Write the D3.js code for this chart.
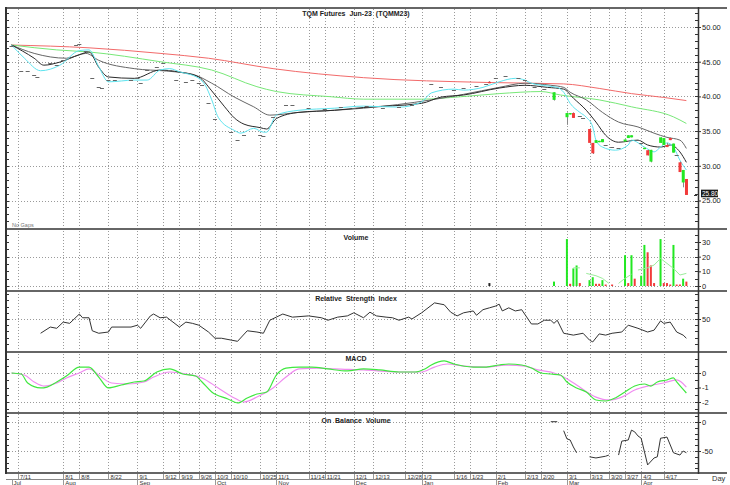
<!DOCTYPE html>
<html>
<head>
<meta charset="utf-8">
<script src="https://cdn.jsdelivr.net/npm/d3@7"></script>
<style>
  body { margin: 0; background: #fff; }
  text { font-family: "Liberation Sans", Arial, sans-serif; }
</style>
</head>
<body>
<script>
// ---- data (x = trading day index, 0 = 7/11/2022) ----
const tickDays = [0, 14, 19, 28, 37, 45, 50, 56, 61, 66, 75, 80, 90, 95, 104, 110, 120, 125, 135, 140, 148, 157, 162, 170, 177, 183, 188, 193, 200]
const tickLabels = ["7/11", "8/1", "8/8", "8/22", "9/1", "9/12", "9/19", "9/26", "10/3", "10/10", "10/25", "11/1", "11/14", "11/21", "12/1", "12/13", "12/28", "1/3", "1/16", "1/23", "2/1", "2/13", "2/20", "3/1", "3/13", "3/20", "3/27", "4/3", "4/17"]
const monthDays = [-2, 14, 37, 61, 80, 104, 125, 148, 170, 193]
const monthLabels = ["Jul", "Aug", "Sep", "Oct", "Nov", "Dec", "Jan", "Feb", "Mar", "Apr"]

const priceTicks = [25, 30, 35, 40, 45, 50]
const volTicks = [0, 10, 20, 30]
const rsiTicks = [50]
const macdTicks = [-2, -1, 0]
const obvTicks = [-50, 0]
const lastPrice = 25.80

// closes on quiet days (drawn as small dashes)
const dashes = [[-2,47.2],[1,43.7],[3,43.7],[5,43.1],[6,42.8],[10,44.8],[12,44.5],[14,45.3],[18,47.4],[19,47.5],[21,46.6],[23,42.6],[25,41.3],[26,41.15],[28,42.35],[30,42.35],[35,42.35],[37,42.6],[38,41.9],[40,43.8],[43,44.3],[45,44.8],[47,43.8],[49,42.35],[52,42.1],[54,42.35],[56,41.9],[57,41.6],[59,39.0],[61,36.7],[66,34.9],[68,33.7],[70,34.4],[75,34.4],[76,34.3],[79,37.1],[81,37.45],[83,38.75],[85,38.75],[90,38.4],[95,38.2],[100,38.5],[104,38.3],[108,38.6],[113,38.4],[118,38.5],[122,38.7],[128,41.8],[131,41.3],[135,40.9],[138,41.15],[142,41.5],[145,41.8],[148,42.7],[151,42.9],[155,42.7],[157,42.35],[160,41.3],[163,41.0],[174,37.2],[175,36.9],[182,33.0],[184,32.7],[186,32.5],[192,33.7],[193,33.3],[204,31.5]]

// [day, open, high, low, close]
const candles = [[146,42.1,42.2,41.9,41.9],[166,39.5,40.6,39.4,40.6],[170,37.0,37.7,35.9,37.6],[171,37.4,37.6,37.4,37.6],[172,37.6,37.7,36.9,36.9],[177,35.3,35.4,33.2,33.3],[178,33.3,33.3,31.7,31.8],[179,33.3,33.7,33.3,33.7],[180,33.4,33.6,33.4,33.6],[181,33.4,33.85,33.4,33.85],[188,33.5,33.8,33.5,33.8],[189,34.0,34.4,34.0,34.4],[190,34.1,34.4,34.1,34.4],[194,32.4,32.6,32.4,32.6],[195,32.25,32.3,31.5,31.5],[196,30.6,32.3,30.5,32.3],[199,33.3,34.1,33.3,34.1],[200,33.0,34.0,33.0,34.0],[201,33.0,33.3,32.7,32.7],[202,34.0,34.1,33.7,33.7],[203,31.9,33.2,31.9,33.2],[205,30.5,30.6,29.1,29.1],[206,27.6,29.4,26.9,29.4],[207,28.1,28.1,25.8,25.8]]

const ma5 = [[-2,47.4],[2,45.5],[7,43.7],[13,44.5],[19,46.6],[22,46.7],[25,44.3],[28,42.1],[36,42.35],[40,42.35],[44,43.8],[47,44.0],[50,43.55],[56,42.6],[58,41.6],[60,39.5],[62,37.0],[67,35.1],[69,34.7],[73,35.4],[76,34.85],[77,34.85],[80,37.3],[87,38.0],[98,38.3],[107,38.6],[118,38.45],[125,39.2],[128,40.5],[135,41.05],[138,40.9],[144,41.3],[149,42.1],[154,42.6],[157,42.35],[159,41.9],[164,41.5],[167,41.3],[169,40.6],[171,39.0],[174,37.7],[176,37.0],[178,35.6],[179,33.7],[181,32.7],[185,32.25],[189,33.0],[190,33.7],[194,32.7],[197,32.0],[199,32.7],[201,33.3],[203,32.7],[205,30.8],[207,29.4]]
const ma10 = [[-2,47.4],[5,45.5],[8,44.5],[13,44.95],[19,46.0],[22,46.4],[25,44.2],[28,42.8],[36,42.6],[44,43.8],[50,43.5],[56,42.8],[60,40.8],[64,38.5],[67,36.9],[70,36.0],[75,35.5],[77,35.3],[80,36.8],[87,37.7],[98,38.0],[107,38.4],[125,39.0],[131,39.9],[138,40.2],[149,41.2],[157,41.6],[164,41.3],[169,41.05],[172,39.75],[176,38.0],[179,36.3],[182,34.4],[186,33.4],[192,33.7],[195,33.0],[199,32.7],[202,33.0],[205,32.0],[207,30.5]]
const ma20 = [[-2,47.4],[5,46.2],[15,45.5],[21,46.2],[25,45.2],[36,44.0],[46,43.65],[54,43.2],[60,41.9],[67,39.9],[73,38.5],[78,37.3],[87,37.7],[98,38.0],[107,38.3],[128,39.5],[138,40.3],[149,41.3],[157,41.9],[165,41.6],[169,41.3],[171,40.6],[176,39.5],[181,37.7],[186,36.3],[192,35.6],[197,34.7],[201,34.1],[205,33.7],[207,32.5]]
const ma50 = [[-2,47.4],[12,46.7],[22,46.4],[44,45.0],[60,43.8],[74,41.4],[80,40.7],[97,39.95],[107,39.6],[125,39.6],[137,39.95],[149,40.4],[162,40.7],[168,40.2],[180,39.5],[190,38.5],[203,37.05],[207,36.1]]
const ma100 = [[-2,47.4],[22,47.0],[44,46.2],[59,45.5],[79,44.0],[107,42.7],[146,42.0],[169,41.8],[180,41.15],[190,40.4],[200,39.85],[207,39.4]]

// [day, volume, direction]
const volume = [[146,2,"flat"],[166,3,"up"],[170,32,"up"],[171,1.5,"down"],[172,12,"up"],[173,14,"up"],[174,2,"down"],[177,4,"up"],[178,6,"up"],[179,1.5,"down"],[180,1.5,"down"],[181,4,"up"],[182,1,"down"],[184,1,"down"],[188,21,"up"],[189,2,"down"],[190,21,"up"],[191,5,"down"],[193,7,"up"],[194,28,"up"],[195,23,"down"],[196,14,"down"],[197,2,"down"],[199,32,"up"],[200,2,"down"],[201,2,"down"],[202,1,"down"],[203,28,"up"],[204,1,"down"],[205,1,"down"],[206,5,"up"],[207,3,"down"]]
const volAvg = [[172,12.4],[174,12.4],[175,null],[176,8.6],[179,7.0],[181,5.2],[183,1.8],[184,null],[186,1.8],[188,5.2],[190,8],[191,null],[192,10.9],[195,12.4],[197,14.3],[199,18.8],[201,15.4],[203,12],[205,7.5],[207,8.6]]

const rsi = [[7,27],[10,37],[12,35],[14,45],[16,43],[19,58],[20,52],[22,52],[23,31],[25,27],[28,29],[29,37],[35,37],[37,40],[38,35],[41,55],[42,58],[44,52],[46,53],[48,45],[50,37],[52,45],[54,43],[56,40],[59,29],[61,19],[63,19],[66,16],[68,14],[71,31],[74,29],[76,27],[78,48],[80,53],[82,58],[85,53],[90,55],[94,52],[96,48],[99,53],[102,55],[104,60],[107,52],[109,61],[111,55],[114,53],[116,52],[118,48],[121,53],[122,50],[125,60],[129,76],[132,73],[134,61],[136,55],[138,60],[141,63],[142,56],[144,65],[146,68],[148,71],[149,74],[150,63],[152,68],[154,63],[156,65],[159,42],[161,42],[163,48],[165,48],[166,43],[167,48],[169,27],[170,26],[172,24],[175,27],[177,16],[178,13],[180,26],[182,24],[184,27],[187,29],[189,40],[192,35],[195,29],[197,32],[199,47],[200,43],[202,45],[204,29],[206,24],[207,19]]

const macd = [[-2,0],[1,-0.07],[3,-0.69],[7,-1.03],[9,-0.97],[12,-0.62],[15,-0.21],[19,0.41],[22,0.41],[25,-0.28],[28,-1.03],[32,-0.83],[36,-0.62],[39,-0.55],[43,0.07],[47,0.28],[51,-0.07],[55,-0.21],[57,-0.62],[60,-1.31],[65,-1.79],[68,-2.07],[71,-1.72],[74,-1.45],[77,-1.31],[80,-0.14],[83,0.34],[87,0.41],[91,0.41],[96,0.28],[102,0.14],[107,0.28],[112,0.21],[118,0.07],[123,0.07],[126,0.28],[128,0.55],[132,0.83],[135,0.62],[141,0.41],[145,0.41],[149,0.55],[152,0.62],[156,0.55],[159,0.34],[162,0],[165,-0.07],[168,-0.14],[170,-0.62],[173,-1.03],[176,-1.31],[179,-1.86],[182,-1.93],[185,-1.72],[188,-1.31],[191,-0.9],[194,-0.76],[196,-0.9],[198,-0.62],[201,-0.48],[203,-0.34],[204,-0.62],[207,-1.38]]
const signal = [[-2,0],[2,-0.14],[5,-0.62],[8,-0.9],[12,-0.69],[15,-0.34],[19,0],[22,0.28],[25,-0.14],[29,-0.69],[34,-0.76],[39,-0.62],[42,-0.28],[47,0.07],[52,-0.07],[57,-0.34],[62,-1.03],[67,-1.72],[70,-2.0],[74,-1.66],[79,-1.03],[83,-0.28],[87,0.28],[93,0.34],[98,0.28],[107,0.21],[118,0.07],[125,0.07],[129,0.41],[133,0.62],[138,0.48],[145,0.41],[151,0.55],[157,0.48],[161,0.21],[166,0],[169,-0.28],[173,-0.83],[179,-1.66],[183,-1.86],[187,-1.66],[191,-1.17],[195,-0.9],[200,-0.69],[204,-0.48],[207,-0.97]]

const obv = [[165,0.5],[167,0.5],[168,null],[169,-15],[170,-29],[171,-31],[172,-43],[173,-53],[174,null],[177,-60],[179,-62],[182,-59],[183,-57],[184,null],[186,-57],[187,-33],[189,-31],[190,-14],[191,-17],[192,-24],[193,-28],[195,-74],[197,-62],[198,-60],[199,-28],[201,-26],[203,-53],[205,-57],[206,-50],[207,-53]]

// ---- layout ----
const L = 6, R = 698
const svg = d3.select("body").append("svg")
    .attr("width", 730)
    .attr("height", 485)

const x = d3.scaleLinear().domain([0, 201]).range([18, 667])
const px = v => Math.round(v) + 0.5

const yP = d3.scaleLinear().domain([25, 50]).range([200.5, 27])
const yV = d3.scaleLinear().domain([0, 30]).range([286, 242])
const yR = d3.scaleLinear().domain([0, 100]).range([350, 288])
const yM = d3.scaleLinear().domain([-2, 0]).range([402, 373])
const yO = d3.scaleLinear().domain([-50, 0]).range([451, 422])

const panels = [
    {top: 8, bottom: 229, titleY: 16, y: yP, grid: priceTicks, ticks: priceTicks, fmt: d3.format(".2f"), minor: 1, title: "TQM Futures  Jun-23  (TQMM23)"},
    {top: 229, bottom: 291, titleY: 240, y: yV, grid: [0, 20], ticks: volTicks, fmt: String, minor: 5, title: "Volume"},
    {top: 291, bottom: 352, titleY: 301, y: yR, grid: rsiTicks, ticks: rsiTicks, fmt: String, minor: 10, title: "Relative  Strength  Index"},
    {top: 352, bottom: 413, titleY: 361, y: yM, grid: [-2, 0], ticks: macdTicks, fmt: String, minor: 0.5, title: "MACD"},
    {top: 413, bottom: 473, titleY: 423, y: yO, grid: obvTicks, ticks: obvTicks, fmt: String, minor: 10, title: "On  Balance  Volume"}
]

// vertical grid
svg.append("g").selectAll("line")
    .data(tickDays)
    .join("line")
    .attr("x1", d => px(x(d))).attr("x2", d => px(x(d)))
    .attr("y1", 9).attr("y2", 473)
    .attr("stroke", "#9a9a9a")
    .attr("stroke-dasharray", "1,2")

panels.forEach(p => {
    // horizontal grid
    svg.append("g").selectAll("line")
        .data(p.grid)
        .join("line")
        .attr("x1", L).attr("x2", R)
        .attr("y1", d => px(p.y(d))).attr("y2", d => px(p.y(d)))
        .attr("stroke", "#9a9a9a")
        .attr("stroke-dasharray", "1,2")

    // minor ticks on both edges
    const [lo, hi] = [p.y.invert(p.bottom), p.y.invert(p.top)]
    const minors = d3.range(Math.ceil(lo / p.minor) * p.minor, hi, p.minor)
        .filter(v => p.y(v) > p.top + 2 && p.y(v) < p.bottom - 2)
    const g = svg.append("g").attr("stroke", "#333")
    g.selectAll(".mr").data(minors).join("line")
        .attr("x1", R - 3).attr("x2", R)
        .attr("y1", d => px(p.y(d))).attr("y2", d => px(p.y(d)))
    g.selectAll(".ml").data(minors).join("line")
        .attr("x1", L).attr("x2", L + 3)
        .attr("y1", d => px(p.y(d))).attr("y2", d => px(p.y(d)))

    // right axis labels
    const ax = svg.append("g")
        .attr("transform", `translate(${R},0)`)
        .call(d3.axisRight(p.y).tickValues(p.ticks).tickFormat(p.fmt).tickSize(3).tickPadding(1))
    ax.select(".domain").remove()
    ax.selectAll("line").attr("stroke", "#333")
    ax.selectAll("text")
        .attr("font-family", '"Liberation Sans", Arial, sans-serif')
        .attr("font-size", 7.5)
        .attr("fill", "#222")

    // title
    svg.append("text")
        .attr("x", 356).attr("y", p.titleY)
        .attr("text-anchor", "middle")
        .attr("font-size", 7)
        .attr("font-weight", "bold")
        .attr("fill", "#222")
        .style("white-space", "pre")
        .text(p.title)
})

// ---- price panel ----
const maLine = d3.line()
    .x(d => x(d[0])).y(d => yP(d[1]))
    .curve(d3.curveMonotoneX)

const maSeries = [
    {data: ma100, color: "#f26a6a"},
    {data: ma50, color: "#78e878"},
    {data: ma20, color: "#666"},
    {data: ma10, color: "#2a2a2a"},
    {data: ma5, color: "#5ee4ef"}
]
maSeries.forEach(s => {
    svg.append("path")
        .datum(s.data)
        .attr("d", maLine)
        .attr("fill", "none")
        .attr("stroke", s.color)
        .attr("stroke-width", 1)
})

svg.append("g").selectAll("line")
    .data(dashes)
    .join("line")
    .attr("x1", d => x(d[0]) - 2).attr("x2", d => x(d[0]) + 2)
    .attr("y1", d => px(yP(d[1]))).attr("y2", d => px(yP(d[1])))
    .attr("stroke", "#666")

const up = "#22e822", down = "#f23a3a"
const cg = svg.append("g")
cg.selectAll("line")
    .data(candles)
    .join("line")
    .attr("x1", d => px(x(d[0]))).attr("x2", d => px(x(d[0])))
    .attr("y1", d => yP(d[2])).attr("y2", d => yP(d[3]))
    .attr("stroke", "#888")
cg.selectAll("rect")
    .data(candles)
    .join("rect")
    .attr("x", d => x(d[0]) - 1.4)
    .attr("width", 3)
    .attr("y", d => yP(Math.max(d[1], d[4])))
    .attr("height", d => Math.max(1.2, Math.abs(yP(d[1]) - yP(d[4]))))
    .attr("fill", d => d[4] >= d[1] ? up : down)

// last price marker, nudged up a little so it clears the 25.00 label
const lpY = yP(lastPrice) - 1.5
const lp = svg.append("g")
lp.append("line")
    .attr("x1", R - 4).attr("x2", R - 1)
    .attr("y1", px(yP(lastPrice))).attr("y2", px(yP(lastPrice)))
    .attr("stroke", "#333")
lp.append("rect")
    .attr("x", R + 3).attr("y", lpY - 3.8)
    .attr("width", 17).attr("height", 7.6)
    .attr("fill", "#1a1a1a")
lp.append("text")
    .attr("x", R + 4).attr("y", lpY + 2.3)
    .attr("font-size", 6.4)
    .attr("fill", "#fff")
    .text(d3.format(".2f")(lastPrice))

svg.append("text")
    .attr("x", 12).attr("y", 227)
    .attr("font-size", 5.5)
    .attr("fill", "#777")
    .text("No Gaps")

// ---- volume ----
svg.append("g").selectAll("rect")
    .data(volume)
    .join("rect")
    .attr("x", d => x(d[0]) - 1)
    .attr("width", 2)
    .attr("y", d => yV(d[1]))
    .attr("height", d => yV(0) - yV(d[1]))
    .attr("fill", d => d[2] === "up" ? up : d[2] === "down" ? down : "#222")

svg.append("path")
    .datum(volAvg)
    .attr("d", d3.line().defined(d => d[1] != null).x(d => x(d[0])).y(d => yV(d[1])))
    .attr("fill", "none")
    .attr("stroke", "#9bec9b")
    .attr("stroke-width", 1)

// ---- RSI ----
svg.append("path")
    .datum(rsi)
    .attr("d", d3.line().x(d => x(d[0])).y(d => yR(d[1])))
    .attr("fill", "none")
    .attr("stroke", "#333")
    .attr("stroke-width", 1)

// ---- MACD ----
const macdLine = d3.line().x(d => x(d[0])).y(d => yM(d[1])).curve(d3.curveMonotoneX)
svg.append("path").datum(signal).attr("d", macdLine)
    .attr("fill", "none").attr("stroke", "#f08cf0").attr("stroke-width", 1.2)
svg.append("path").datum(macd).attr("d", macdLine)
    .attr("fill", "none").attr("stroke", "#3fe83f").attr("stroke-width", 1.2)

// ---- OBV ----
svg.append("path")
    .datum(obv)
    .attr("d", d3.line().defined(d => d[1] != null).x(d => x(d[0])).y(d => yO(d[1])))
    .attr("fill", "none")
    .attr("stroke", "#333")
    .attr("stroke-width", 1)

// ---- frame ----
const frame = svg.append("g")
frame.selectAll(".sep")
    .data(panels.map(p => p.bottom))
    .join("line")
    .attr("x1", L).attr("x2", 727)
    .attr("y1", d => d).attr("y2", d => d)
    .attr("stroke", "#666")
    .attr("stroke-width", 2)
frame.append("line")
    .attr("x1", L).attr("x2", 727).attr("y1", 8).attr("y2", 8)
    .attr("stroke", "#333").attr("stroke-width", 1.5)
frame.append("line")
    .attr("x1", L).attr("x2", L).attr("y1", 7).attr("y2", 474)
    .attr("stroke", "#333").attr("stroke-width", 2)
frame.append("line")
    .attr("x1", R + 0.5).attr("x2", R + 0.5).attr("y1", 7).attr("y2", 474)
    .attr("stroke", "#333").attr("stroke-width", 1.5)

// ---- date axis ----
const da = svg.append("g")
da.append("line").attr("x1", L).attr("x2", R).attr("y1", 479.5).attr("y2", 479.5).attr("stroke", "#888")
da.selectAll(".dt").data(tickDays).join("line")
    .attr("x1", d => px(x(d))).attr("x2", d => px(x(d)))
    .attr("y1", 474).attr("y2", 479.5)
    .attr("stroke", "#999")
da.selectAll(".dl").data(tickDays).join("text")
    .attr("x", d => x(d) + 2).attr("y", 478.6)
    .attr("font-size", 5.8)
    .attr("fill", "#333")
    .text((d, i) => tickLabels[i])
da.selectAll(".mt").data(monthDays).join("line")
    .attr("x1", d => px(x(d))).attr("x2", d => px(x(d)))
    .attr("y1", 479.5).attr("y2", 485)
    .attr("stroke", "#999")
da.selectAll(".ml").data(monthDays).join("text")
    .attr("x", d => x(d) + 2).attr("y", 485)
    .attr("font-size", 6)
    .attr("fill", "#333")
    .text((d, i) => monthLabels[i])

svg.append("text")
    .attr("x", 712).attr("y", 481)
    .attr("font-size", 7.5)
    .attr("fill", "#333")
    .text("Day")
</script>
</body>
</html>
